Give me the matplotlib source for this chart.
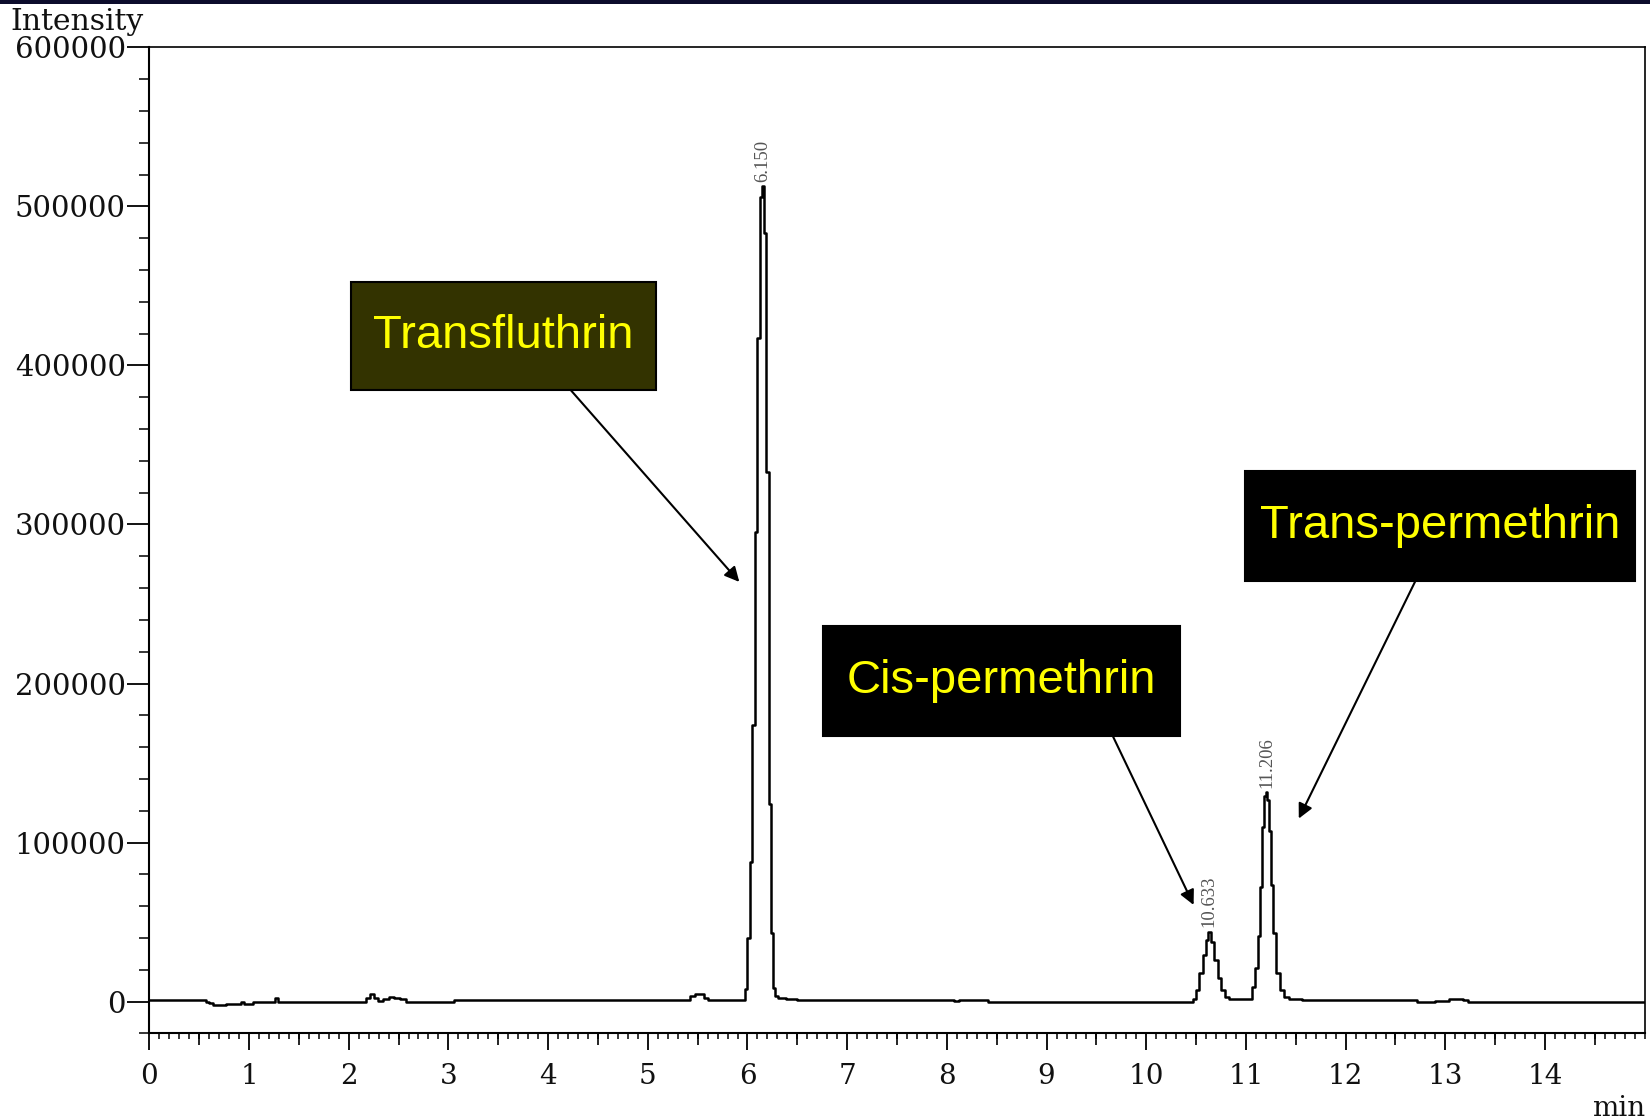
import matplotlib
matplotlib.use("Agg")
import matplotlib.pyplot as plt
from matplotlib.patches import Rectangle
from matplotlib.ticker import MultipleLocator, FixedLocator

# ---------------- data ----------------
time_min = [
    0.00, 0.55, 0.58, 0.62, 0.66, 0.75, 0.78, 0.90, 0.93, 0.97, 1.02, 1.05,
    1.25, 1.28, 1.31, 2.15, 2.20, 2.23, 2.27, 2.32, 2.37, 2.43, 2.48, 2.55,
    2.60, 3.04, 3.07, 5.40, 5.44, 5.50, 5.55, 5.58, 5.62, 5.96,
    5.985, 6.010, 6.037, 6.063, 6.087, 6.113, 6.138, 6.150, 6.175, 6.200,
    6.222, 6.245, 6.265, 6.285, 6.32, 6.45, 6.55,
    8.05, 8.10, 8.15, 8.40, 8.43,
    10.45, 10.49, 10.515, 10.55, 10.58, 10.61, 10.635, 10.66, 10.70, 10.73,
    10.77, 10.80, 10.87, 11.05,
    11.075, 11.11, 11.135, 11.15, 11.17, 11.19, 11.205, 11.225, 11.24,
    11.26, 11.29, 11.32, 11.36, 11.40, 11.47, 11.55, 11.58,
    12.70, 12.73, 12.88, 12.91, 13.02, 13.05, 13.15, 13.20, 13.25, 15.00,
]
intensity = [
    1000, 1000, -500, -1000, -2000, -2000, -1200, -1200, -500, -1200, -1200, -300,
    -300, 2500, -300, -300, 2500, 4500, 2000, 500, 1800, 3200, 2000, 1500,
    -300, -300, 800, 800, 3500, 4800, 4800, 2000, 1000, 1000,
    7900, 40000, 88000, 174000, 295000, 417000, 506000, 513000, 483000, 333000,
    124000, 43000, 8700, 3600, 2200, 1500, 1000,
    1000, 300, 1000, 1000, 0,
    0, 1500, 7400, 17900, 29400, 38800, 44000, 37600, 26200, 14700,
    7400, 3200, 1500, 1500,
    9500, 21000, 41000, 72300, 110000, 129000, 132000, 127000, 107000,
    73400, 43000, 17900, 7400, 3200, 1800, 1500, 1000,
    1000, 0, 0, 500, 500, 1800, 1800, 800, 0, 0,
]

peak_rt = [6.150, 10.633, 11.206]
peak_height = [513000, 44000, 132000]
peak_labels = ["6.150", "10.633", "11.206"]

compounds = ["Transfluthrin", "Cis-permethrin", "Trans-permethrin"]

x_ticks = list(range(0, 15))
x_half_ticks = [0.5, 1.5, 2.5, 3.5, 4.5, 5.5, 6.5, 7.5, 8.5, 9.5, 10.5, 11.5, 12.5, 13.5, 14.5]
y_ticks = [0, 100000, 200000, 300000, 400000, 500000, 600000]
y_tick_labels = ["0", "100000", "200000", "300000", "400000", "500000", "600000"]

# ---------------- layout / style ----------------
# box: (x0, x1, y0, y1) in data units, arrow tail (x, y), arrow head (x, y)
box_layout = [
    dict(box=(2.026, 5.084, 384300, 452400), tail=(4.23, 384300), head=(5.918, 263900), face="#333300"),
    dict(box=(6.762, 10.338, 167300, 236200), tail=(9.662, 167300), head=(10.475, 60800), face="#000000"),
    dict(box=(10.991, 14.905, 264500, 333400), tail=(12.70, 264500), head=(11.53, 115100), face="#000000"),
]

SERIF = "DejaVu Serif"

fig = plt.figure(figsize=(16.5, 11.2), dpi=100)
fig.patch.set_facecolor("white")
ax = fig.add_axes([0.0905, 0.0773, 0.9063, 0.8804])

ax.plot(time_min, intensity, color="black", lw=1.8, drawstyle="steps-mid", zorder=3)

ax.set_xlim(0, 15)
ax.set_ylim(-20000, 600000)

# ticks
ax.xaxis.set_major_locator(FixedLocator(x_ticks))
ax.xaxis.set_minor_locator(MultipleLocator(0.1))
ax.set_xticklabels([str(v) for v in x_ticks])
ax.yaxis.set_major_locator(FixedLocator(y_ticks))
ax.yaxis.set_minor_locator(MultipleLocator(20000))
ax.set_yticklabels(y_tick_labels)

ax.tick_params(axis="x", which="major", direction="out", length=12, width=1.3,
               pad=9, labelsize=20, labelcolor="#111111")
ax.tick_params(axis="x", which="minor", direction="out", length=4.5, width=1.1)
ax.tick_params(axis="y", which="major", direction="out", length=16, width=1.3,
               pad=1, labelsize=21, labelcolor="#111111")
ax.tick_params(axis="y", which="minor", direction="out", length=7, width=1.1)
for lab in ax.get_xticklabels() + ax.get_yticklabels():
    lab.set_fontfamily(SERIF)

# medium ticks at the half-minute marks
sec = ax.secondary_xaxis("bottom")
sec.set_xticks(x_half_ticks)
sec.set_xticklabels([""] * len(x_half_ticks))
sec.tick_params(axis="x", which="major", direction="out", length=8.5, width=1.2)
sec.tick_params(axis="x", which="minor", length=0)
for s in sec.spines.values():
    s.set_visible(False)

for name, sp in ax.spines.items():
    sp.set_color("black")
    sp.set_linewidth(1.5 if name in ("left", "bottom") else 1.2)

# peak retention-time labels
for rt, h, lab in zip(peak_rt, peak_height, peak_labels):
    ax.annotate(lab, xy=(rt, h), xytext=(0, 3), textcoords="offset points",
                rotation=90, ha="center", va="bottom", fontsize=13.5,
                family="Liberation Serif", color="#555555")

# compound boxes and arrows
for name, lay in zip(compounds, box_layout):
    x0, x1, y0, y1 = lay["box"]
    ax.add_patch(Rectangle((x0, y0), x1 - x0, y1 - y0, facecolor=lay["face"],
                           edgecolor="black", lw=1.5, zorder=4))
    ax.text((x0 + x1) / 2, (y0 + y1) / 2, name, ha="center", va="center",
            fontsize=34, family="Liberation Sans", color="#ffff00", zorder=5)
    ax.annotate("", xy=lay["head"], xytext=lay["tail"],
                arrowprops=dict(arrowstyle="-|>", color="black", lw=1.5,
                                mutation_scale=22, shrinkA=0, shrinkB=0),
                zorder=5)

# axis labels as in the instrument printout
fig.text(10.5 / 1650, 1 - 22 / 1120, "Intensity", ha="left", va="center",
         fontsize=21.5, family=SERIF, color="#111111")
fig.text(1645 / 1650, 1 - 1108 / 1120, "min", ha="right", va="center",
         fontsize=20, family=SERIF, color="#111111")

# dark band at the very top of the slide
fig.add_artist(Rectangle((0, 1 - 3.5 / 1120), 1, 3.5 / 1120, transform=fig.transFigure,
                         facecolor="#0c0c2c", edgecolor="none"))

fig.savefig("out.png", dpi=100)
